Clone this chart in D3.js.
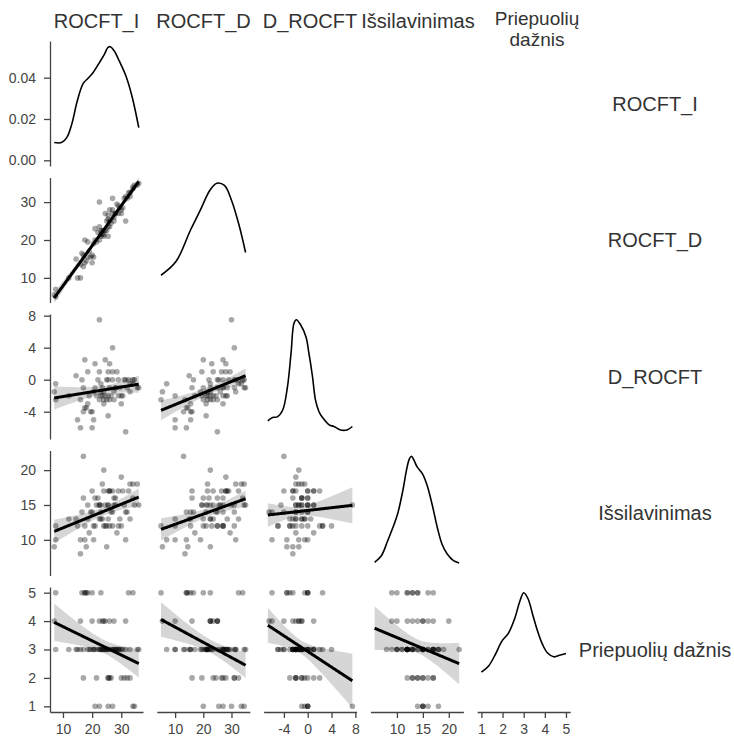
<!DOCTYPE html>
<html>
<head>
<meta charset="utf-8">
<script src="https://cdn.jsdelivr.net/npm/d3@7"></script>
<style>
  body { margin: 0; background: #fff; }
  svg { display: block; }
  text { font-family: "Liberation Sans", Arial, sans-serif; }
</style>
</head>
<body>
<svg id="chart" width="734" height="736"></svg>
<script>
// kintamieji (stulpelių / eilučių pavadinimai)
const variables = ["ROCFT_I", "ROCFT_D", "D_ROCFT", "Išsilavinimas", "Priepuolių dažnis"];

// tiriamųjų reikšmės, nuskaitytos nuo paveikslo
const rocftI = [7, 7.5, 7.5, 12, 14.5, 15, 16, 16, 16.5, 17, 17, 17.5, 17.5, 18, 18.5, 18.5, 20, 20, 20.5, 20.5,
  21, 21.5, 22.5, 22.5, 22.5, 23, 23, 23, 23.5, 24, 24.5, 24.5, 25, 25, 25.5, 25.5, 25.5, 25.5, 26, 26,
  26.5, 27, 27, 27.5, 27.5, 28, 28.5, 29, 29, 30, 30, 30.5, 31, 31.5, 31.5, 32, 32.5, 33, 34, 34,
  34.5, 35.5, 36, 19, 21, 22, 24, 26, 28, 29.5, 33, 19.5, 24, 27, 23.5];
const rocftD = [5.5, 7, 5, 10, 15, 10, 10, 13.5, 16.5, 16, 13, 20, 14, 14.5, 19.5, 15.5, 16, 14, 19, 15.5,
  23, 19.5, 30, 23.5, 20, 22.5, 21.5, 21, 22.5, 21.5, 27, 22.5, 25, 22.5, 23.5, 26.5, 25.5, 21, 28, 25,
  24.5, 28, 31, 26, 25, 27, 29.5, 29, 27, 28, 27, 28.5, 31, 25, 31.5, 31, 32.5, 32.5, 34, 33.5,
  34.5, 34.5, 35, 17, 20, 22, 22.5, 23.5, 27, 28.5, 31.5, 15.5, 21, 27, 21.5];
const dRocft = [-1.5, -0.5, -2.5, -2, 0.5, -5, -6, -2.5, 0, -1, -4, 2.5, -3.5, -3.5, 1, -3, -4, -6, -1.5, -5,
  2, -2, 7.5, 1, -2.5, -0.5, -1.5, -2, -1, -2.5, 2.5, -2, 0, -2.5, -2, 1, 0, -4.5, 2, -1,
  -2, 1, 4, -1.5, -2.5, -1, 1, 0, -2, -2, -3, -2, 0, -6.5, 0, -1, 0, -0.5, 0, -0.5,
  0, -1, -1, -2, -1, 0, -1.5, -2.5, -1, -1, -1.5, -4, -3, 0, -2];
const education = [9, 10, 12, 13, 13, 12, 10, 8, 14, 16, 22, 12, 10, 9, 15, 13, 17, 14, 10, 12,
  12, 15, 15, 15, 13, 13, 15, 14, 13, 17, 12, 15, 12, 9, 13, 17, 15, 15, 17, 12,
  14, 17, 12, 15, 16, 16, 11, 17, 12, 19, 12, 17, 15, 14, 10, 14, 17, 13, 16, 18,
  15, 18, 15, 11, 16, 16, 20, 17, 15, 13, 18, 14, 12, 14, 18];
const frequency = [4, 3, 5, 3, 3, 3, 4, 3, 5, 2, 3, 5, 5, 5, 3, 5, 4, 5, 3, 3,
  3, 2, 1, 4, 3, 5, 3, 3, 4, 3, 3, 4, 3, 3, 2, 2, 1, 3, 2, 4,
  2, 3, 3, 3, 4, 3, 3, 3, 3, 3, 2, 3, 2, 4, 3, 2, 5, 2, 5, 1,
  1, 3, 3, 3, 1, 3, 4, 3, 3, 3, 3, 3, 3, 1, 3];

// įstrižainės tankio kreivės (nuskaitytos)
const kdeGridI = [7, 9.5, 11.3, 13, 14.9, 16.9, 18.6, 20.3, 22.5, 24.2, 25.4, 26.2, 27.6, 29.3, 31.6, 33.8, 36];
const kdeDensI = [0.0086, 0.0086, 0.011, 0.0174, 0.0287, 0.0371, 0.0397, 0.0424, 0.0473, 0.0513, 0.0546, 0.055, 0.0529, 0.0481, 0.0408, 0.0303, 0.0158];
const kdeGridD = [5, 10.3, 15.5, 18.9, 22.4, 24.8, 27.5, 30, 32.7, 35];
const kdeDensD = [0.0095, 0.0155, 0.0295, 0.038, 0.047, 0.05, 0.049, 0.0425, 0.0315, 0.0195];
const kdeGridDiff = [-6.7, -5.9, -5.1, -4.2, -3.4, -2.8, -2.3, -1.9, -1.2, -0.3, 0.2, 0.8, 1.3, 1.9, 2.4, 3.6, 4.4, 5.5, 6.6, 7.5];
const kdeDensDiff = [0.022, 0.028, 0.029, 0.041, 0.082, 0.141, 0.194, 0.2, 0.191, 0.17, 0.141, 0.1, 0.059, 0.038, 0.029, 0.015, 0.012, 0.006, 0.006, 0.012];
const kdeGridEdu = [5.7, 7, 8.2, 9.2, 10.1, 11.1, 11.9, 12.4, 12.8, 13.3, 13.9, 14.9, 15.8, 16.8, 17.8, 18.7, 19.7, 20.9, 22];
const kdeDensEdu = [0.0086, 0.0161, 0.033, 0.0481, 0.0632, 0.0894, 0.1157, 0.127, 0.13, 0.1252, 0.1177, 0.1101, 0.097, 0.0744, 0.0481, 0.0293, 0.0181, 0.0105, 0.0079];
const kdeGridFreq = [1, 1.35, 1.66, 1.97, 2.28, 2.58, 2.81, 3.0, 3.2, 3.43, 3.66, 3.89, 4.12, 4.42, 4.73, 5];
const kdeDensFreq = [0.135, 0.161, 0.206, 0.258, 0.29, 0.349, 0.414, 0.45, 0.427, 0.362, 0.297, 0.245, 0.212, 0.196, 0.203, 0.209];

// ašių žymės
const tickValues = [[10, 20, 30], [10, 20, 30], [-4, 0, 4, 8], [10, 15, 20], [1, 2, 3, 4, 5]];
const densityTicks = [0, 0.02, 0.04];

const series = [rocftI, rocftD, dRocft, education, frequency];
const kdeGrids = [kdeGridI, kdeGridD, kdeGridDiff, kdeGridEdu, kdeGridFreq];
const kdeDens = [kdeDensI, kdeDensD, kdeDensDiff, kdeDensEdu, kdeDensFreq];

// išdėstymas
const colX = i => 50 + i * 106.8;
const colW = 93;
const rowY = i => 41 + i * 136.5;
const rowH = 125;

const svg = d3.select("#chart");

// ašies ribos (duomenys + kreivė), kaip matplotlib su 5 % paraštėmis
function fullExtent(i) {
  return d3.extent(series[i].concat(kdeGrids[i]));
}
function paddedExtent(i) {
  const [a, b] = fullExtent(i);
  const r = b - a;
  return [a - 0.05 * r, b + 0.05 * r];
}

const xScales = series.map((s, i) => d3.scaleLinear().domain(paddedExtent(i)).range([colX(i), colX(i) + colW]));
const yScales = series.map((s, i) => d3.scaleLinear().domain(paddedExtent(i)).range([rowY(i) + rowH, rowY(i)]));
const densScales = kdeDens.map((d, i) => {
  const m = d3.max(d);
  return d3.scaleLinear().domain([-0.05 * m, 1.05 * m]).range([rowY(i) + rowH, rowY(i)]);
});

const fmt = v => (v < 0 ? "-" + Math.abs(v) : String(v));

// tiesinė regresija su 95 % pasikliautinuoju intervalu
function regression(xs, ys, span) {
  const n = xs.length;
  const mx = d3.mean(xs), my = d3.mean(ys);
  let sxx = 0, sxy = 0;
  xs.forEach((x, k) => { sxx += (x - mx) ** 2; sxy += (x - mx) * (ys[k] - my); });
  const b = sxy / sxx, a = my - b * mx;
  let sse = 0;
  xs.forEach((x, k) => { sse += (ys[k] - a - b * x) ** 2; });
  const s = Math.sqrt(sse / (n - 2));
  const t = 1.993;
  const [x0, x1] = span;
  return d3.range(100).map(k => {
    const x = x0 + (x1 - x0) * k / 99;
    const h = t * s * Math.sqrt(1 / n + (x - mx) ** 2 / sxx);
    return { x, y: a + b * x, lo: a + b * x - h, hi: a + b * x + h };
  });
}

const defs = svg.append("defs");

for (let r = 0; r < variables.length; r++) {
  for (let c = 0; c <= r; c++) {
    const clipId = `clip-${r}-${c}`;
    defs.append("clipPath").attr("id", clipId)
      .append("rect")
      .attr("x", colX(c)).attr("y", rowY(r))
      .attr("width", colW).attr("height", rowH);

    const g = svg.append("g").attr("clip-path", `url(#${clipId})`);
    const x = xScales[c];

    if (r === c) {
      // tankio kreivė
      const y = densScales[r];
      const pts = kdeGrids[c].map((v, k) => [v, kdeDens[c][k]]);
      g.append("path")
        .attr("d", d3.line().x(d => x(d[0])).y(d => y(d[1])).curve(d3.curveCatmullRom)(pts))
        .attr("fill", "none")
        .attr("stroke", "#000")
        .attr("stroke-width", 1.6);
    } else {
      const y = yScales[r];
      const xs = series[c], ys = series[r];

      g.selectAll("circle")
        .data(xs.map((v, k) => [v, ys[k]]))
        .enter()
        .append("circle")
        .attr("cx", d => x(d[0]))
        .attr("cy", d => y(d[1]))
        .attr("r", 2.8)
        .attr("fill", "#000")
        .attr("fill-opacity", 0.34);

      const fit = regression(xs, ys, fullExtent(c));
      g.append("path")
        .attr("d", d3.area().x(d => x(d.x)).y0(d => y(d.lo)).y1(d => y(d.hi))(fit))
        .attr("fill", "#000")
        .attr("fill-opacity", 0.16);
      g.append("path")
        .attr("d", d3.line().x(d => x(d.x)).y(d => y(d.y))(fit))
        .attr("fill", "none")
        .attr("stroke", "#000")
        .attr("stroke-width", 3);
    }
  }
}

function styleAxis(sel) {
  sel.select(".domain").attr("stroke", "#444").attr("stroke-width", 1.3);
  sel.selectAll(".tick line").attr("stroke", "#444").attr("stroke-width", 1.3);
  sel.selectAll(".tick text")
    .attr("fill", "#444")
    .style("font-size", "14px")
    .style("font-family", "\"Liberation Sans\", Arial, sans-serif");
}

// kairės ašys (tik pirmame stulpelyje)
for (let r = 0; r < variables.length; r++) {
  const axis = r === 0
    ? d3.axisLeft(densScales[0]).tickValues(densityTicks).tickFormat(d3.format(".2f"))
    : d3.axisLeft(yScales[r]).tickValues(tickValues[r]).tickFormat(fmt);
  svg.append("g")
    .attr("transform", `translate(${colX(0)},0)`)
    .call(axis.tickSize(6).tickSizeOuter(0).tickPadding(8))
    .call(styleAxis);
}

// apatinės ašys (tik paskutinėje eilutėje)
const lastRow = variables.length - 1;
for (let c = 0; c < variables.length; c++) {
  svg.append("g")
    .attr("transform", `translate(0,${rowY(lastRow) + rowH})`)
    .call(d3.axisBottom(xScales[c]).tickValues(tickValues[c]).tickFormat(fmt)
      .tickSize(6).tickSizeOuter(0).tickPadding(6))
    .call(styleAxis);
}

// stulpelių antraštės viršuje
const headerX = [96.5, 203.5, 310, 418, 537];
variables.forEach((name, i) => {
  const t = svg.append("text")
    .attr("text-anchor", "middle")
    .attr("fill", "#333")
    .style("font-size", "20px");
  if (i === variables.length - 1) {
    // dviejų eilučių antraštė
    const parts = name.split(" ");
    t.style("font-size", "19px");
    t.append("tspan").attr("x", headerX[i]).attr("y", 25).text(parts[0]);
    t.append("tspan").attr("x", headerX[i]).attr("y", 45.5).text(parts[1]);
  } else {
    t.attr("x", headerX[i]).attr("y", 28).text(name);
  }
});

// eilučių pavadinimai dešinėje
variables.forEach((name, i) => {
  svg.append("text")
    .attr("x", 655)
    .attr("y", rowY(i) + rowH / 2)
    .attr("dy", "0.35em")
    .attr("text-anchor", "middle")
    .attr("fill", "#333")
    .style("font-size", "20px")
    .text(name);
});
</script>
</body>
</html>
